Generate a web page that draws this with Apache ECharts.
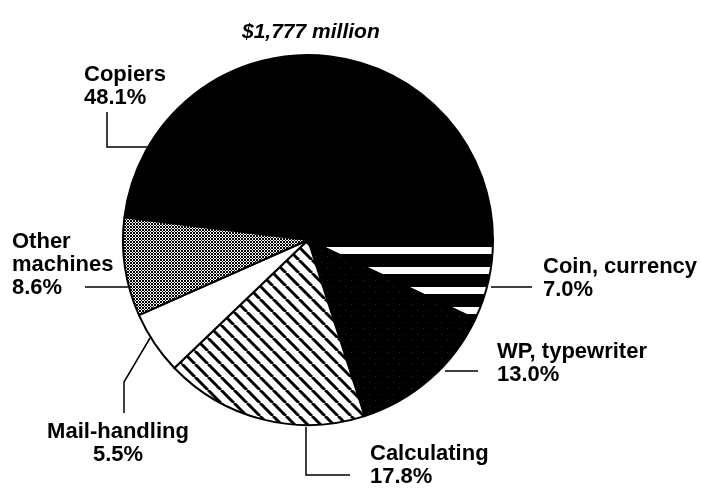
<!DOCTYPE HTML>
<html>
<head>
    <title>Office machines</title>
    <script src="https://cdn.jsdelivr.net/npm/echarts@6/dist/echarts.min.js"></script>
    <style>
        body { margin: 0; background: #fff; }
        #main { width: 701px; height: 489px; }
    </style>
</head>
<body>
<div id="main"></div>
<script type="text/javascript">

    // data, clockwise from the left edge of Copiers
    var names = ['Copiers', 'Coin, currency', 'WP, typewriter', 'Calculating', 'Mail-handling', 'Other\nmachines'];
    var shares = [48.1, 7.0, 13.0, 17.8, 5.5, 8.6];
    var titleText = '$1,777 million';

    // label placement (x, y of the text block top, align) and leader lines
    var labelPos = [
        { x: 84, y: 63, align: 'left', line: [[150, 147], [107, 147], [107, 112]] },
        { x: 543, y: 255, align: 'left', line: [[491, 287], [510, 287], [532, 287]] },
        { x: 497, y: 340, align: 'left', line: [[445, 371], [460, 371], [478, 371]] },
        { x: 370, y: 442, align: 'left', line: [[306, 427], [306, 475], [350, 475]] },
        { x: 118, y: 420, align: 'center', line: [[150, 338], [124, 382], [124, 413]] },
        { x: 12, y: 230, align: 'left', line: [[128, 287], [106, 287], [85, 287]] }
    ];

    function makeTile(w, h, draw) {
        var c = document.createElement('canvas');
        c.width = w;
        c.height = h;
        var ctx = c.getContext('2d');
        draw(ctx, w, h);
        return c;
    }

    // black with white horizontal bands
    var stripeTile = makeTile(20, 20, function (ctx, w, h) {
        ctx.fillStyle = '#000';
        ctx.fillRect(0, 0, w, h);
        ctx.fillStyle = '#fff';
        ctx.fillRect(0, 7, w, 7);
    });

    // black with sparse specks
    var speckTile = makeTile(12, 12, function (ctx, w, h) {
        ctx.fillStyle = '#000';
        ctx.fillRect(0, 0, w, h);
        ctx.fillStyle = '#2a2a2a';
        ctx.fillRect(3, 4, 1, 1);
        ctx.fillRect(9, 10, 1, 1);
    });

    // white with diagonal black lines
    var hatchTile = makeTile(13, 13, function (ctx, w, h) {
        ctx.fillStyle = '#fff';
        ctx.fillRect(0, 0, w, h);
        ctx.strokeStyle = '#000';
        ctx.lineWidth = 3;
        for (var k = -1; k <= 1; k++) {
            ctx.beginPath();
            ctx.moveTo(k * w, 0);
            ctx.lineTo(k * w + w, h);
            ctx.stroke();
        }
    });

    // fine crosshatch
    var crossTile = makeTile(3, 3, function (ctx, w, h) {
        ctx.fillStyle = '#fff';
        ctx.fillRect(0, 0, w, h);
        ctx.fillStyle = '#000';
        for (var x = 0; x < w; x++) {
            for (var y = 0; y < h; y++) {
                if ((x + y) % 3 === 0 || (x - y + 3) % 3 === 0) {
                    ctx.fillRect(x, y, 1, 1);
                }
            }
        }
    });

    var fills = [
        '#000',
        { image: stripeTile, repeat: 'repeat' },
        { image: speckTile, repeat: 'repeat' },
        { image: hatchTile, repeat: 'repeat' },
        '#fff',
        { image: crossTile, repeat: 'repeat' }
    ];

    var pieData = [];
    for (var i = 0; i < names.length; i++) {
        pieData.push({
            name: names[i],
            value: shares[i],
            itemStyle: { color: fills[i] }
        });
    }

    var chart = echarts.init(document.getElementById('main'), null, { renderer: 'canvas' });

    var option = {
        backgroundColor: '#fff',
        animation: false,
        title: {
            text: titleText,
            left: 237,
            top: 9,
            textStyle: {
                fontFamily: 'Liberation Sans',
                fontStyle: 'italic',
                fontWeight: 'bold',
                fontSize: 21,
                color: '#000'
            }
        },
        series: [
            {
                type: 'pie',
                center: [308, 240],
                radius: 185,
                startAngle: 173,
                clockwise: true,
                avoidLabelOverlap: false,
                itemStyle: {
                    borderColor: '#000',
                    borderWidth: 2
                },
                label: {
                    show: true,
                    position: 'outside',
                    color: '#000',
                    fontFamily: 'Liberation Sans',
                    fontWeight: 'bold',
                    fontSize: 22,
                    lineHeight: 23,
                    formatter: function (p) {
                        return p.name + '\n' + p.value.toFixed(1) + '%';
                    }
                },
                labelLine: {
                    show: true,
                    lineStyle: { color: '#000', width: 1.5 }
                },
                labelLayout: function (params) {
                    var pos = labelPos[params.dataIndex];
                    return {
                        x: pos.x,
                        y: pos.y,
                        align: pos.align,
                        verticalAlign: 'top',
                        labelLinePoints: pos.line
                    };
                },
                emphasis: { disabled: true },
                data: pieData
            }
        ]
    };

    chart.setOption(option);

</script>
</body>
</html>
